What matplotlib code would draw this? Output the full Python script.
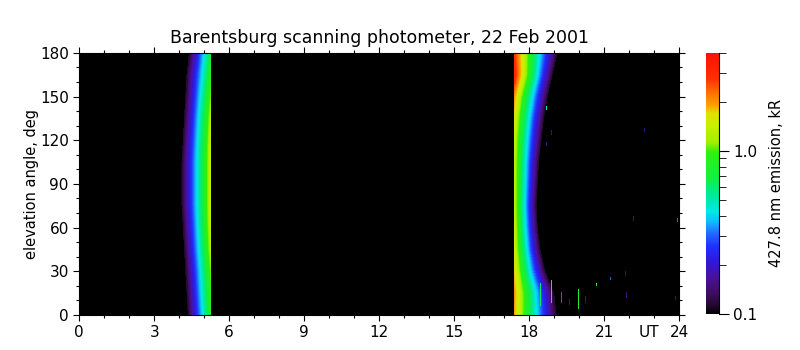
import numpy as np
import matplotlib
matplotlib.use("Agg")
import matplotlib.pyplot as plt
from matplotlib.colors import LinearSegmentedColormap, LogNorm

elev_nodes = [0, 15, 30, 45, 60, 75, 90, 105, 120, 135, 150, 165, 180]

# morning band: faint onset (UT), sharp end at b1_stop, brightness at the end (kR)
b1_start = [4.35, 4.3, 4.25, 4.2, 4.15, 4.1, 4.1, 4.1, 4.15, 4.2, 4.25, 4.3, 4.4]
b1_stop = 5.28
b1_peak = [0.9, 1.0, 1.1, 1.3, 1.4, 1.45, 1.45, 1.45, 1.4, 1.3, 1.1, 0.9, 0.75]

# evening band: sharp start at b2_start, fades out at b2_end (UT)
b2_start = 17.42
b2_end = [19.1, 19.0, 18.65, 18.45, 18.35, 18.3, 18.35, 18.4, 18.5, 18.6, 18.75, 18.95, 19.15]
b2_peak = [1.9, 2.0, 1.7, 1.5, 1.4, 1.35, 1.35, 1.35, 1.4, 1.6, 2.0, 3.2, 2.8]

# isolated bright patches: UT, elevation from, elevation to, kR
spot_ut = [18.45, 18.9, 19.3, 20.0, 20.25, 19.6, 20.7, 21.25, 21.85, 21.9, 18.7, 18.9, 18.7, 22.6, 22.2, 23.95, 23.85]
spot_lo = [6, 8, 8, 4, 8, 7, 20, 24, 27, 12, 141, 124, 116, 126, 65, 64, 10]
spot_hi = [21, 23, 15, 17, 12, 10, 21, 25, 29, 15, 143, 126, 118, 128, 67, 66, 12]
spot_kr = [0.6, 0.7, 0.3, 0.8, 0.15, 0.15, 0.9, 0.3, 0.15, 0.15, 0.45, 0.15, 0.15, 0.15, 0.15, 0.3, 0.15]

ut = np.arange(0, 24, 0.04) + 0.02
el = np.arange(0, 181, 1.0)
img = np.full((len(el), len(ut)), 0.05)

for i, e in enumerate(el):
    s1 = np.interp(e, elev_nodes, b1_start)
    p1 = np.interp(e, elev_nodes, b1_peak)
    m = (ut >= s1) & (ut <= b1_stop)
    f = (ut[m] - s1) / (b1_stop - s1)
    img[i, m] = 0.11 * (p1 / 0.11) ** f
    e2 = np.interp(e, elev_nodes, b2_end)
    p2 = np.interp(e, elev_nodes, b2_peak)
    m = (ut >= b2_start) & (ut <= e2)
    f = (e2 - ut[m]) / (e2 - b2_start)
    img[i, m] = 0.11 * (p2 / 0.11) ** f

for t, lo, hi, v in zip(spot_ut, spot_lo, spot_hi, spot_kr):
    j = np.argmin(abs(ut - t))
    img[(el >= lo) & (el <= hi), j] = v

cols = [(0.0, "#000000"), (0.03, "#200830"), (0.08, "#400c60"), (0.14, "#4a10a0"),
        (0.2, "#3018d8"), (0.26, "#2030ff"), (0.31, "#2070ff"), (0.35, "#10b8ff"),
        (0.39, "#00e8e8"), (0.45, "#00e8a0"), (0.52, "#10f040"), (0.62, "#30f010"),
        (0.66, "#a0f000"), (0.72, "#c8f000"), (0.77, "#e0e000"), (0.8, "#ffa000"),
        (0.85, "#ff7000"), (0.9, "#ff3000"), (1.0, "#ff1000")]
cmap = LinearSegmentedColormap.from_list("idl", cols)
cmap.set_under("black")
norm = LogNorm(0.1, 4.0)

fig = plt.figure(figsize=(8, 3.5), dpi=100)
ax = fig.add_axes([0.099, 0.1, 0.75, 0.749])
im = ax.imshow(img, extent=[0, 24, 0, 180], origin="lower", aspect="auto",
               cmap=cmap, norm=norm, interpolation="nearest")
ax.set_xlim(0, 24)
ax.set_ylim(0, 180)
ax.set_xticks(range(0, 25, 3))
ax.set_xticks(range(0, 25), minor=True)
ax.set_yticks(range(0, 181, 30))
ax.set_yticks(range(0, 181, 10), minor=True)
ax.tick_params(which="both", direction="out", top=True, right=True, labelsize=11, width=0.8)
ax.tick_params(which="major", length=4)
ax.tick_params(which="minor", length=2.5)
ax.set_ylabel("elevation angle, deg", fontsize=10.5, labelpad=1)
ax.text(22.8, -7.2, "UT", ha="center", va="top", fontsize=11)
ax.set_title("Barentsburg scanning photometer, 22 Feb 2001", fontsize=12.5, pad=7)

cax = fig.add_axes([0.8825, 0.103, 0.016, 0.746])
cb = fig.colorbar(im, cax=cax)
cb.set_ticks([0.1, 1.0])
cb.set_ticklabels(["0.1", "1.0"])
cax.tick_params(which="major", length=7, labelsize=11)
cax.tick_params(which="minor", length=5)
cb.outline.set_visible(False)
cax.spines["right"].set_visible(True)
cb.set_label("427.8 nm emission, kR", fontsize=10.5, labelpad=8)

fig.savefig("out.png", dpi=100)
